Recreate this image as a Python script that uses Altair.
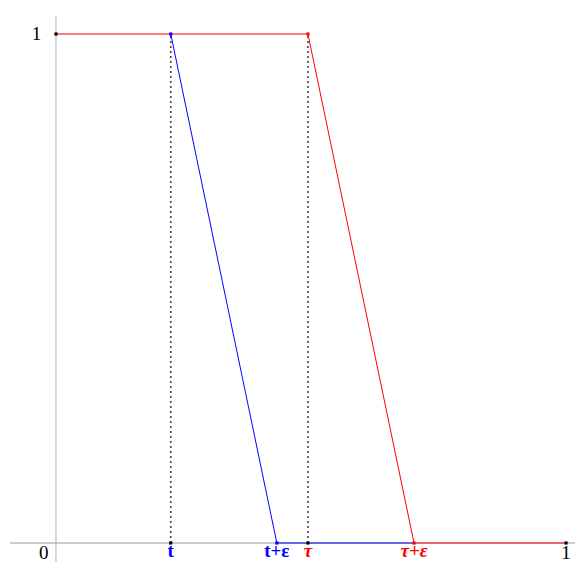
import altair as alt
import pandas as pd

# key abscissae
t = 0.225
t_eps = 0.433
tau = 0.494
tau_eps = 0.702

# series
red_x = [0, tau, tau_eps, 1]
red_y = [1, 1, 0, 0]
blue_x = [t, t_eps, tau_eps]
blue_y = [1, 0, 0]

# points
black_px = [0, t, tau, 1]
black_py = [1, 0, 0, 0]
blue_px = [t, t_eps]
blue_py = [1, 0]
red_px = [tau, tau_eps]
red_py = [1, 0]

# dotted guides
guide_x = [t, tau]

# tick labels
blue_labels = ["t", "t+ε"]
blue_label_x = [t, t_eps]
red_labels = ["τ", "τ+ε"]
red_label_x = [tau, tau_eps]
num_labels = ["1", "0", "1"]
num_label_x = [-0.038, -0.024, 1.0]
num_label_y = [1.0, -0.0196, -0.0196]

XD = [-0.0941, 1.0176]
YD = [-0.0373, 1.0511]
xs = alt.Scale(domain=XD, nice=False, zero=False)
ys = alt.Scale(domain=YD, nice=False, zero=False)

def X(f="x"):
    return alt.X(f"{f}:Q", scale=xs, axis=None)

def Y(f="y"):
    return alt.Y(f"{f}:Q", scale=ys, axis=None)

axis_h = alt.Chart(pd.DataFrame({"x": [-0.090], "x2": [XD[1]], "y": [0]})).mark_rule(
    color="#9a9a9a", strokeWidth=1
).encode(x=X(), x2="x2:Q", y=Y())
axis_v = alt.Chart(pd.DataFrame({"x": [0], "y": [YD[0]], "y2": [1.0354]})).mark_rule(
    color="#b0b0b0", strokeWidth=1
).encode(x=X(), y=Y(), y2="y2:Q")

guides = alt.Chart(pd.DataFrame({"x": guide_x, "y": [0] * len(guide_x), "y2": [1] * len(guide_x)})).mark_rule(
    color="#444444", strokeWidth=1.6, strokeDash=[2, 3]
).encode(x=X(), y=Y(), y2="y2:Q")

blue_df = pd.DataFrame({"x": blue_x, "y": blue_y, "i": list(range(len(blue_x)))})
red_df = pd.DataFrame({"x": red_x, "y": red_y, "i": list(range(len(red_x)))})

blue_line = alt.Chart(blue_df).mark_line(color="#0000ff", strokeWidth=1).encode(
    x=X(), y=Y(), order="i:Q"
)
red_line = alt.Chart(red_df).mark_line(color="#ff0000", strokeWidth=1).encode(
    x=X(), y=Y(), order="i:Q"
)

def pts(xv, yv, color):
    return alt.Chart(pd.DataFrame({"x": xv, "y": yv})).mark_square(
        color=color, size=10, opacity=1
    ).encode(x=X(), y=Y())

black_pts = pts(black_px, black_py, "#000000")
blue_pts = pts(blue_px, blue_py, "#0000ff")
red_pts = pts(red_px, red_py, "#ff0000")

blue_text = alt.Chart(pd.DataFrame({"x": blue_label_x, "y": [-0.0354] * 2, "l": blue_labels})).mark_text(
    font="Liberation Serif", fontSize=19, fontWeight="bold", color="#0000ff",
    baseline="bottom", align="center"
).encode(x=X(), y=Y(), text="l:N")
red_text = alt.Chart(pd.DataFrame({"x": red_label_x, "y": [-0.0354] * 2, "l": red_labels})).mark_text(
    font="Liberation Serif", fontSize=19, fontWeight="bold", fontStyle="italic", color="#ff0000",
    baseline="bottom", align="center"
).encode(x=X(), y=Y(), text="l:N")
num_text = alt.Chart(pd.DataFrame({"x": num_label_x, "y": num_label_y, "l": num_labels})).mark_text(
    font="Liberation Serif", fontSize=19, color="#000000", baseline="middle", align="center"
).encode(x=X(), y=Y(), text="l:N")

chart = alt.layer(
    axis_h, axis_v, guides, blue_line, red_line, black_pts, blue_pts, red_pts,
    blue_text, red_text, num_text
).properties(
    width=567, height=554, padding=0, autosize=alt.AutoSizeParams(type="none")
).configure(background="white", view=alt.ViewConfig(stroke=None))

chart.save("out.html", embed_options={"renderer": "svg", "actions": False})
